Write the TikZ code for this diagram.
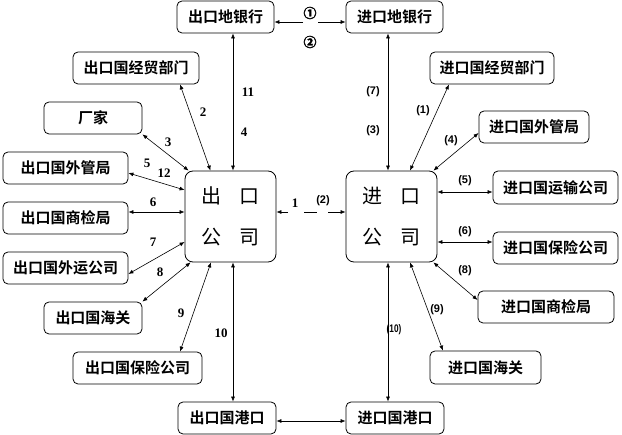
\documentclass[tikz,border=0pt]{standalone}
\usepackage{fontspec}
\usepackage{graphicx}
\setmainfont{Liberation Serif}
\newfontfamily\cjkb{Noto Sans CJK SC Bold}
\newfontfamily\cjkr{Noto Sans CJK SC}
\newfontfamily\circf[FakeBold=2]{Noto Sans CJK SC Bold}
\newfontfamily\lsans{Liberation Sans}
\usetikzlibrary{arrows.meta}
\begin{document}
\begin{tikzpicture}[x=1pt,y=-1pt,
 >={Latex[length=5pt,width=4pt]},
 box/.style={draw, rounded corners=5pt, line width=0.8pt, inner sep=0pt, minimum height=32pt, font=\cjkb\fontsize{15}{15}\selectfont},
 big/.style={draw, rounded corners=8pt, line width=0.8pt, inner sep=0pt, minimum width=91pt, minimum height=91pt, align=center, font=\cjkr\fontsize{20}{41}\selectfont},
 link/.style={<->, line width=0.6pt},
 lto/.style={->, line width=0.6pt},
 plain/.style={line width=0.6pt},
 num/.style={font=\bfseries\fontsize{13}{13}\selectfont, inner sep=0pt},
 pnum/.style={font=\lsans\bfseries\fontsize{11}{11}\selectfont, inner sep=0pt},
 cnum/.style={font=\circf\fontsize{13}{13}\selectfont, inner sep=0pt},
]
\useasboundingbox (0,0) rectangle (622,435);

% boxes
\node[box, minimum width=97pt] (b1) at (225.5,17) {出口地银行};
\node[box, minimum width=97pt] (b2) at (394.5,17) {进口地银行};
\node[box, minimum width=126pt] (e1) at (136,68) {出口国经贸部门};
\node[box, minimum width=98pt] (e2) at (93,118) {厂家};
\node[box, minimum width=125pt] (e3) at (65.5,168) {出口国外管局};
\node[box, minimum width=125pt] (e4) at (65.5,218) {出口国商检局};
\node[box, minimum width=125pt] (e5) at (65.5,268) {出口国外运公司};
\node[box, minimum width=98pt] (e6) at (93,318) {出口国海关};
\node[box, minimum width=129pt] (e7) at (137.5,368) {出口国保险公司};
\node[box, minimum width=98pt] (ep) at (227,418) {出口国港口};
\node[big] (ck) at (230.5,216.5) {出\hspace{18.5pt}口\\公\hspace{18.5pt}司};
\node[big] (jk) at (391.5,216.5) {进\hspace{18.5pt}口\\公\hspace{18.5pt}司};
\node[box, minimum width=124pt] (i1) at (492,68) {进口国经贸部门};
\node[box, minimum width=110pt] (i2) at (534,127) {进口国外管局};
\node[box, minimum width=125pt, minimum height=33pt] (i3) at (555.5,187.5) {进口国运输公司};
\node[box, minimum width=125pt] (i4) at (555.5,248) {进口国保险公司};
\node[box, minimum width=136pt] (i5) at (546,307) {进口国商检局};
\node[box, minimum width=111pt, minimum height=33pt] (i6) at (485.5,367.5) {进口国海关};
\node[box, minimum width=98pt] (jp) at (395,418) {进口国港口};

% coordinates for broken connectors
\coordinate (c1) at (303,22);
\coordinate (c2) at (318,22);
\coordinate (m1) at (288,212);
\coordinate (m2) at (304,212);
\coordinate (m3) at (317,212);
\coordinate (m4) at (328,212);

% top banks
\draw[lto] (c1) -- ([yshift=-5pt]b1.east);
\draw[lto] (c2) -- ([yshift=-5pt]b2.west);
\node[cnum] (l01) at (310,13) {①};
\node[cnum] (l02) at (310,42) {②};

% left side
\draw[link] ([xshift=7.5pt]b1.south) -- ([xshift=2.5pt]ck.north);
\draw[link] ([xshift=44pt]e1.south) -- ([xshift=-20pt]ck.north);
\draw[link] (e2.south east) -- ([xshift=4pt]ck.north west);
\draw[link] ([yshift=-5pt]e3.east) -- ([yshift=26.5pt]ck.west);
\draw[link] ([yshift=6pt]e4.east) -- ([yshift=4.5pt]ck.west);
\draw[link] ([yshift=-6pt]e5.east) -- ([yshift=-25.5pt]ck.west);
\draw[link] (e6.north east) -- ([xshift=6pt]ck.south west);
\draw[link] ([xshift=42.5pt]e7.north) -- ([xshift=-19.5pt]ck.south);
\draw[link] ([xshift=2.5pt]ck.south) -- ([xshift=6pt]ep.north);

% right side
\draw[link] ([xshift=-6.5pt]b2.south) -- ([xshift=-3.5pt]jk.north);
\draw[link] ([xshift=-43pt]i1.south) -- ([xshift=18.5pt]jk.north);
\draw[link] ([yshift=-6pt]i2.west) -- ([xshift=-4pt]jk.north east);
\draw[link] ([yshift=-4.5pt]i3.west) -- ([yshift=24.5pt]jk.east);
\draw[link] ([yshift=6pt]i4.west) -- ([yshift=-25.5pt]jk.east);
\draw[link] ([xshift=-4pt]jk.south east) -- ([yshift=7pt]i5.west);
\draw[link] ([xshift=18.5pt]jk.south) -- ([xshift=-42.5pt]i6.north);
\draw[link] ([xshift=-3.5pt]jk.south) -- ([xshift=-7pt]jp.north);

% ports
\draw[link] ([yshift=-3pt]ep.east) -- ([yshift=-3pt]jp.west);

% middle
\draw[lto] (m1) -- ([yshift=4.5pt]ck.east);
\draw[plain] (m2) -- (m3);
\draw[lto] (m4) -- ([yshift=4.5pt]jk.west);

% labels left
\node[num] (n2) at (203,112) {2};
\node[num] (n3) at (168,142) {3};
\node[num] (n5) at (147,163) {5};
\node[num] (n12) at (164,173) {12};
\node[num] (n6) at (153,202) {6};
\node[num] (n11) at (248,92) {11};
\node[num] (n4) at (244,132) {4};
\node[num] (n7) at (153,242) {7};
\node[num] (n8) at (160,272) {8};
\node[num] (n9) at (181,313) {9};
\node[num] (n10) at (221,333) {10};
\node[num] (n1) at (295,203) {1};

% labels right
\node[pnum] (p7) at (373,92) {(7)};
\node[pnum] (p3) at (373,131) {(3)};
\node[pnum] (p1) at (423,111) {(1)};
\node[pnum] (p4) at (451,141) {(4)};
\node[pnum] (p5) at (465,181) {(5)};
\node[pnum] (p6) at (465,232) {(6)};
\node[pnum] (p8) at (465,271) {(8)};
\node[pnum] (p9) at (437,310) {(9)};
\node[pnum] (p10) at (394,330) {\scalebox{0.75}[1]{(10)}};
\node[pnum] (p2) at (323,201) {(2)};
\end{tikzpicture}
\end{document}
